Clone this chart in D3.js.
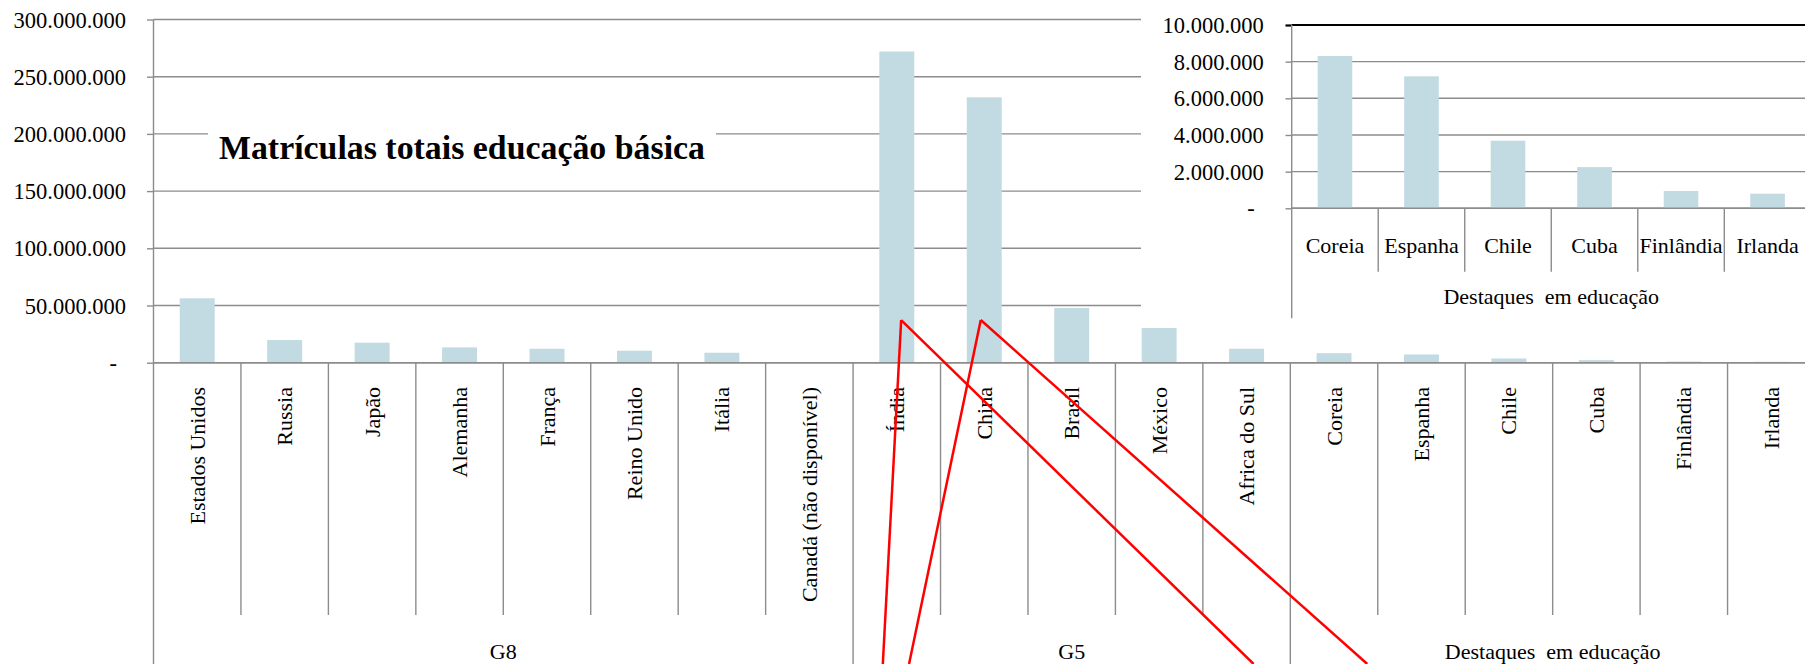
<!DOCTYPE html>
<html><head><meta charset="utf-8">
<script src="https://cdn.jsdelivr.net/npm/d3@7"></script>
<style>
html,body{margin:0;padding:0;background:#fff;}
svg{display:block;font-family:"Liberation Serif","Times New Roman",serif;}
</style></head><body>
<svg id="chart" width="1805" height="664"></svg>
<script>
// ---------- DATA ----------
const categories = ["Estados Unidos","Russia","Japão","Alemanha","França","Reino Unido","Itália","Canadá (não disponível)","Índia","China","Brasil","México","Africa do Sul","Coreia","Espanha","Chile","Cuba","Finlândia","Irlanda"];
const values = [56300000,19800000,17500000,13400000,12200000,10500000,8700000,null,272000000,232000000,47800000,30300000,12200000,8310000,7200000,3690000,2250000,945000,800000];
const groupNames = ["G8","G5","Destaques  em educação"];
const groupSizes = [8,5,6];
const mainTicks = [0,50000000,100000000,150000000,200000000,250000000,300000000];
const titleText = "Matrículas totais educação básica";

const insetCategories = ["Coreia","Espanha","Chile","Cuba","Finlândia","Irlanda"];
const insetValues = [8310000,7200000,3690000,2250000,945000,800000];
const insetGroup = "Destaques  em educação";
const insetTicks = [0,2000000,4000000,6000000,8000000,10000000];

// annotation lines (category units / values): apex and two feet
const annotations = [
  {apexCat:8.55, apexVal:37300000, feet:[8.34, 12.58]},
  {apexCat:9.46, apexVal:37300000, feet:[8.64, 13.88]}
];

// ---------- SETUP ----------
const W = 1805, H = 664;
const svg = d3.select("#chart");
const loc = d3.formatLocale({decimal:",", thousands:".", grouping:[3], currency:["",""]});
const f = loc.format(",d");
const fmt = v => v === 0 ? "-" : f(v);
const GRID = "#8c8c8c", BAR = "#c2dbe2", FS = 22;

// ---------- MAIN CHART ----------
const M = {left:153.5, right:1815, top:19.5, base:362.7};
const x = d3.scaleBand().domain(categories).range([M.left, M.right]).paddingInner(0.6).paddingOuter(0.3);
const xCell = d3.scaleBand().domain(categories).range([M.left, M.right]).padding(0);
const xUnit = d3.scaleLinear().domain([0, categories.length]).range([M.left, M.right]);
const y = d3.scaleLinear().domain([0, 300000000]).range([M.base, M.top]);
const main = svg.append("g");

// gridlines
main.selectAll("line.grid").data(mainTicks).join("line")
  .attr("x1", M.left).attr("x2", M.right)
  .attr("y1", d => y(d)).attr("y2", d => y(d))
  .attr("stroke", GRID).attr("stroke-width", 1.4);

// y axis
const yAxis = d3.axisLeft(y).tickValues(mainTicks).tickSize(6.5).tickPadding(21).tickFormat(fmt);
const yg = main.append("g").attr("transform", `translate(${M.left},0)`).call(yAxis);
yg.select(".domain").remove();
yg.selectAll(".tick line").attr("stroke", GRID).attr("stroke-width", 1.4);
yg.selectAll(".tick text").attr("font-size", 22.5).attr("font-family", "Liberation Serif").attr("fill", "#000").attr("dy", "0.34em");
yg.selectAll(".tick text").filter(d => d === 0).attr("dx", -9);

// vertical axis line
main.append("line").attr("x1", M.left).attr("x2", M.left).attr("y1", M.top).attr("y2", H)
  .attr("stroke", GRID).attr("stroke-width", 1.4);

// bars
main.selectAll("rect.bar").data(categories.map((c, i) => ({c, v: values[i]})).filter(d => d.v != null)).join("rect")
  .attr("x", d => x(d.c)).attr("width", x.bandwidth())
  .attr("y", d => y(d.v)).attr("height", d => y(0) - y(d.v))
  .attr("fill", BAR);

// baseline drawn over bars
main.append("line").attr("x1", M.left).attr("x2", M.right).attr("y1", y(0)).attr("y2", y(0))
  .attr("stroke", GRID).attr("stroke-width", 1.4);

// category dividers
const groupStarts = [];
groupSizes.reduce((acc, s) => { groupStarts.push(acc); return acc + s; }, 0);
d3.range(1, categories.length + 1).forEach(i => {
  const xp = xUnit(i);
  const isGroup = groupStarts.includes(i) || i === categories.length;
  main.append("line").attr("x1", xp).attr("x2", xp).attr("y1", y(0)).attr("y2", isGroup ? H : 615)
    .attr("stroke", GRID).attr("stroke-width", 1.4);
});

// rotated category labels
main.selectAll("text.cat").data(categories).join("text")
  .attr("transform", d => `translate(${x(d) + x.bandwidth()/2 + 7.5},387) rotate(-90)`)
  .attr("text-anchor", "end").attr("font-size", FS).attr("fill", "#000")
  .text(d => d);

// group labels
groupNames.forEach((g, gi) => {
  const s = groupStarts[gi], e = s + groupSizes[gi];
  main.append("text").attr("x", (xUnit(s) + xUnit(e)) / 2).attr("y", 659)
    .attr("text-anchor", "middle").attr("font-size", FS).attr("fill", "#000")
    .style("white-space", "pre").text(g);
});

// title
main.append("rect").attr("x", 208).attr("y", 116).attr("width", 508).attr("height", 60).attr("fill", "#fff");
main.append("text").attr("x", 219).attr("y", 159).attr("font-size", 34).attr("font-weight", "bold")
  .attr("fill", "#000").attr("textLength", 486).attr("lengthAdjust", "spacingAndGlyphs").text(titleText);

// ---------- INSET ----------
const I = {left:1291.7, right:1291.7 + 6*86.52, top:25, base:208.3};
const ins = svg.append("g");
ins.append("rect").attr("x", 1141).attr("y", 0).attr("width", W - 1141).attr("height", 322).attr("fill", "#fff");
const xi = d3.scaleBand().domain(insetCategories).range([I.left, I.right]).paddingInner(0.6).paddingOuter(0.3);
const xiUnit = d3.scaleLinear().domain([0, insetCategories.length]).range([I.left, I.right]);
const yi = d3.scaleLinear().domain([0, 10000000]).range([I.base, I.top]);

ins.selectAll("line.grid").data(insetTicks).join("line")
  .attr("x1", I.left).attr("x2", I.right)
  .attr("y1", d => yi(d)).attr("y2", d => yi(d))
  .attr("stroke", d => d === 10000000 ? "#000" : GRID)
  .attr("stroke-width", d => d === 10000000 ? 2.2 : 1.4);

const yiAxis = d3.axisLeft(yi).tickValues(insetTicks).tickSize(6.2).tickPadding(21.7).tickFormat(fmt);
const yig = ins.append("g").attr("transform", `translate(${I.left},0)`).call(yiAxis);
yig.select(".domain").remove();
yig.selectAll(".tick line").attr("stroke", d => d === 10000000 ? "#000" : GRID).attr("stroke-width", d => d === 10000000 ? 2.2 : 1.4);
yig.selectAll(".tick text").attr("font-size", 22.5).attr("font-family", "Liberation Serif").attr("fill", "#000").attr("dy", "0.34em");
yig.selectAll(".tick text").filter(d => d === 0).attr("dx", -9);

ins.selectAll("rect.bar").data(insetCategories.map((c, i) => ({c, v: insetValues[i]}))).join("rect")
  .attr("x", d => xi(d.c)).attr("width", xi.bandwidth())
  .attr("y", d => yi(d.v)).attr("height", d => yi(0) - yi(d.v))
  .attr("fill", BAR);

ins.append("line").attr("x1", I.left).attr("x2", I.right).attr("y1", yi(0)).attr("y2", yi(0))
  .attr("stroke", GRID).attr("stroke-width", 1.4);
ins.append("line").attr("x1", I.left).attr("x2", I.left).attr("y1", I.top).attr("y2", 318.3)
  .attr("stroke", GRID).attr("stroke-width", 1.4);
d3.range(1, insetCategories.length + 1).forEach(i => {
  ins.append("line").attr("x1", xiUnit(i)).attr("x2", xiUnit(i)).attr("y1", yi(0)).attr("y2", 271.7)
    .attr("stroke", GRID).attr("stroke-width", 1.4);
});
ins.selectAll("text.cat").data(insetCategories).join("text")
  .attr("x", d => xi(d) + xi.bandwidth()/2).attr("y", 253)
  .attr("text-anchor", "middle").attr("font-size", FS).attr("fill", "#000").text(d => d);
ins.append("text").attr("x", (I.left + I.right) / 2).attr("y", 304)
  .attr("text-anchor", "middle").attr("font-size", FS).attr("fill", "#000")
  .style("white-space", "pre").text(insetGroup);

// ---------- ANNOTATION LINES ----------
const ann = svg.append("g");
annotations.forEach(a => {
  const ax = xUnit(a.apexCat), ay = y(a.apexVal);
  a.feet.forEach(fc => {
    ann.append("line").attr("x1", ax).attr("y1", ay).attr("x2", xUnit(fc)).attr("y2", H)
      .attr("stroke", "#ff0000").attr("stroke-width", 2.5);
  });
});
</script>
</body></html>
